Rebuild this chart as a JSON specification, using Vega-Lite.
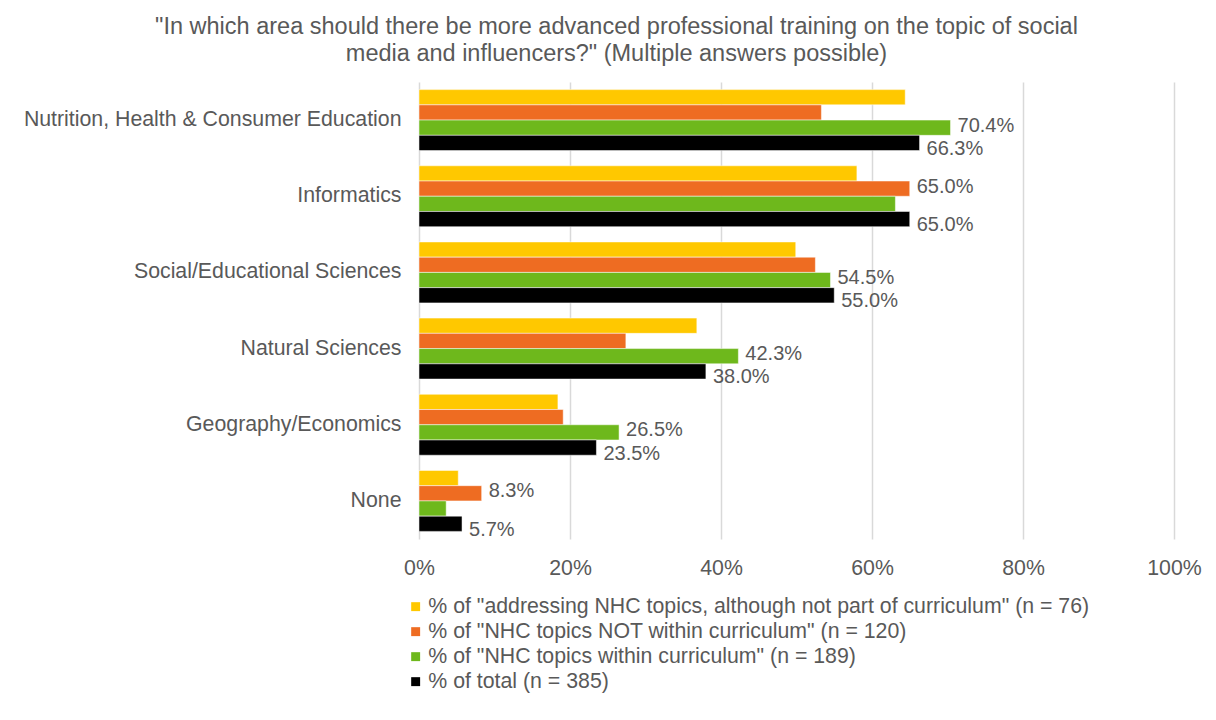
{
  "$schema": "https://vega.github.io/schema/vega-lite/v6.json",
  "width": 755,
  "height": 457,
  "autosize": {"type": "none"},
  "padding": {"left": 419, "top": 82, "right": 42, "bottom": 181},
  "background": "#ffffff",
  "config": {
    "view": {"stroke": null},
    "font": "Liberation Sans"
  },
  "title": {
    "text": ["\"In which area should there be more advanced professional training on the topic of social", "media and influencers?\" (Multiple answers possible)"],
    "fontSize": 23.5,
    "font": "Liberation Sans",
    "fontWeight": "normal",
    "color": "#595959",
    "anchor": "middle",
    "dx": -180,
    "offset": 17,
    "lineHeight": 27
  },
  "data": {
    "values": [
      {"category": "Nutrition, Health & Consumer Education", "series": "% of \"addressing NHC topics, although not part of curriculum\" (n = 76)", "value": 0.644, "labeled": false},
      {"category": "Nutrition, Health & Consumer Education", "series": "% of \"NHC topics NOT within curriculum\" (n = 120)", "value": 0.533, "labeled": false},
      {"category": "Nutrition, Health & Consumer Education", "series": "% of \"NHC topics within curriculum\" (n = 189)", "value": 0.704, "labeled": true},
      {"category": "Nutrition, Health & Consumer Education", "series": "% of total (n = 385)", "value": 0.663, "labeled": true},
      {"category": "Informatics", "series": "% of \"addressing NHC topics, although not part of curriculum\" (n = 76)", "value": 0.58, "labeled": false},
      {"category": "Informatics", "series": "% of \"NHC topics NOT within curriculum\" (n = 120)", "value": 0.65, "labeled": true},
      {"category": "Informatics", "series": "% of \"NHC topics within curriculum\" (n = 189)", "value": 0.631, "labeled": false},
      {"category": "Informatics", "series": "% of total (n = 385)", "value": 0.65, "labeled": true},
      {"category": "Social/Educational Sciences", "series": "% of \"addressing NHC topics, although not part of curriculum\" (n = 76)", "value": 0.499, "labeled": false},
      {"category": "Social/Educational Sciences", "series": "% of \"NHC topics NOT within curriculum\" (n = 120)", "value": 0.525, "labeled": false},
      {"category": "Social/Educational Sciences", "series": "% of \"NHC topics within curriculum\" (n = 189)", "value": 0.545, "labeled": true},
      {"category": "Social/Educational Sciences", "series": "% of total (n = 385)", "value": 0.55, "labeled": true},
      {"category": "Natural Sciences", "series": "% of \"addressing NHC topics, although not part of curriculum\" (n = 76)", "value": 0.368, "labeled": false},
      {"category": "Natural Sciences", "series": "% of \"NHC topics NOT within curriculum\" (n = 120)", "value": 0.274, "labeled": false},
      {"category": "Natural Sciences", "series": "% of \"NHC topics within curriculum\" (n = 189)", "value": 0.423, "labeled": true},
      {"category": "Natural Sciences", "series": "% of total (n = 385)", "value": 0.38, "labeled": true},
      {"category": "Geography/Economics", "series": "% of \"addressing NHC topics, although not part of curriculum\" (n = 76)", "value": 0.184, "labeled": false},
      {"category": "Geography/Economics", "series": "% of \"NHC topics NOT within curriculum\" (n = 120)", "value": 0.191, "labeled": false},
      {"category": "Geography/Economics", "series": "% of \"NHC topics within curriculum\" (n = 189)", "value": 0.265, "labeled": true},
      {"category": "Geography/Economics", "series": "% of total (n = 385)", "value": 0.235, "labeled": true},
      {"category": "None", "series": "% of \"addressing NHC topics, although not part of curriculum\" (n = 76)", "value": 0.052, "labeled": false},
      {"category": "None", "series": "% of \"NHC topics NOT within curriculum\" (n = 120)", "value": 0.083, "labeled": true},
      {"category": "None", "series": "% of \"NHC topics within curriculum\" (n = 189)", "value": 0.036, "labeled": false},
      {"category": "None", "series": "% of total (n = 385)", "value": 0.057, "labeled": true}
    ]
  },
  "encoding": {
    "y": {
      "field": "category",
      "type": "nominal",
      "sort": ["Nutrition, Health & Consumer Education", "Informatics", "Social/Educational Sciences", "Natural Sciences", "Geography/Economics", "None"],
      "title": null,
      "scale": {"paddingInner": 0.2, "paddingOuter": 0.1},
      "axis": {
        "ticks": false,
        "domain": false,
        "grid": false,
        "labelPadding": 18,
        "labelFontSize": 21.3,
        "labelColor": "#595959",
        "labelFont": "Liberation Sans",
        "labelLimit": 500
      }
    },
    "x": {
      "field": "value",
      "type": "quantitative",
      "scale": {"domain": [0, 1]},
      "title": null,
      "axis": {
        "values": [0, 0.2, 0.4, 0.6, 0.8, 1],
        "format": "%",
        "ticks": false,
        "domain": false,
        "grid": true,
        "gridColor": "#d9d9d9",
        "gridWidth": 1.5,
        "labelFlush": false,
        "labelPadding": 18,
        "labelFontSize": 21.3,
        "labelColor": "#595959",
        "labelFont": "Liberation Sans"
      }
    },
    "yOffset": {
      "field": "series",
      "type": "nominal",
      "sort": ["% of \"addressing NHC topics, although not part of curriculum\" (n = 76)", "% of \"NHC topics NOT within curriculum\" (n = 120)", "% of \"NHC topics within curriculum\" (n = 189)", "% of total (n = 385)"],
      "scale": {"paddingInner": 0, "paddingOuter": 0}
    }
  },
  "layer": [
    {
      "mark": {"type": "bar", "stroke": "#ffffff", "strokeWidth": 0.5},
      "encoding": {
        "color": {
          "field": "series",
          "type": "nominal",
          "scale": {
            "domain": ["% of \"addressing NHC topics, although not part of curriculum\" (n = 76)", "% of \"NHC topics NOT within curriculum\" (n = 120)", "% of \"NHC topics within curriculum\" (n = 189)", "% of total (n = 385)"],
            "range": ["#FFC800", "#EE6C22", "#6EB81C", "#000000"]
          },
          "legend": {
            "title": null,
            "orient": "none",
            "legendX": -14,
            "legendY": 514,
            "direction": "vertical",
            "symbolType": "square",
            "symbolSize": 80,
            "symbolStrokeWidth": 0,
            "labelFontSize": 21.3,
            "labelColor": "#595959",
            "labelFont": "Liberation Sans",
            "labelLimit": 900,
            "labelOffset": 2,
            "rowPadding": 3
          }
        }
      }
    },
    {
      "transform": [{"filter": "datum.labeled && datum.series != '% of total (n = 385)'"}],
      "mark": {"type": "text", "align": "left", "baseline": "middle", "dx": 7, "dy": -2, "fontSize": 20, "color": "#595959", "font": "Liberation Sans"},
      "encoding": {"text": {"field": "value", "type": "quantitative", "format": ".1%"}}
    },
    {
      "transform": [{"filter": "datum.series == '% of total (n = 385)'"}],
      "mark": {"type": "text", "align": "left", "baseline": "middle", "dx": 7, "dy": 6, "fontSize": 20, "color": "#595959", "font": "Liberation Sans"},
      "encoding": {"text": {"field": "value", "type": "quantitative", "format": ".1%"}}
    }
  ]
}
